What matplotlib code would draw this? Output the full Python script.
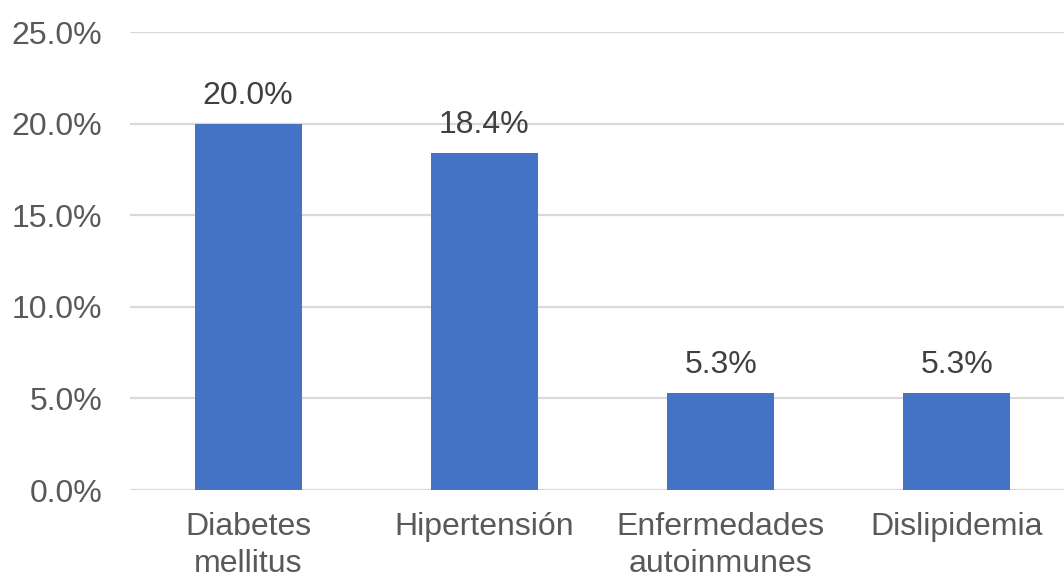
import matplotlib
matplotlib.use("Agg")
import matplotlib.pyplot as plt
from matplotlib.ticker import PercentFormatter, MultipleLocator

categories = ["Diabetes\nmellitus", "Hipertensión", "Enfermedades\nautoinmunes", "Dislipidemia"]
values = [20.0, 18.4, 5.3, 5.3]
value_labels = ["20.0%", "18.4%", "5.3%", "5.3%"]

plt.rcParams["font.family"] = ["Liberation Sans", "DejaVu Sans"]

W, H, DPI = 1064, 577, 100
fig = plt.figure(figsize=(W / DPI, H / DPI), dpi=DPI)
# plot area in pixels: left 130, right 1075 (runs past the edge), y0 at 490, top at 32
left, right, bottom, top = 130, 1075, 490, 32
ax = fig.add_axes([left / W, 1 - bottom / H, (right - left) / W, (bottom - top) / H])

x = range(len(categories))
bars = ax.bar(x, values, width=0.453, color="#4472C4", zorder=3)

ax.set_xlim(-0.5, len(categories) - 0.5)
ax.set_ylim(0, 25)
ax.yaxis.set_major_locator(MultipleLocator(5))
ax.yaxis.set_major_formatter(PercentFormatter(decimals=1))
ax.grid(axis="y", color="#d9d9d9", linewidth=1.6, zorder=0)
ax.set_axisbelow(True)
for s in ax.spines.values():
    s.set_visible(False)

ax.set_xticks(list(x))
ax.set_xticklabels(categories, linespacing=1.3)
ax.tick_params(axis="both", length=0, labelsize=23, colors="#595959")
ax.tick_params(axis="y", pad=20)
ax.tick_params(axis="x", pad=16)

for b, v, lab in zip(bars, values, value_labels):
    ax.annotate(lab, (b.get_x() + b.get_width() / 2, v), xytext=(0, 9),
                textcoords="offset points", ha="center", va="bottom",
                fontsize=23, color="#404040")

fig.savefig("out.png", dpi=DPI)
